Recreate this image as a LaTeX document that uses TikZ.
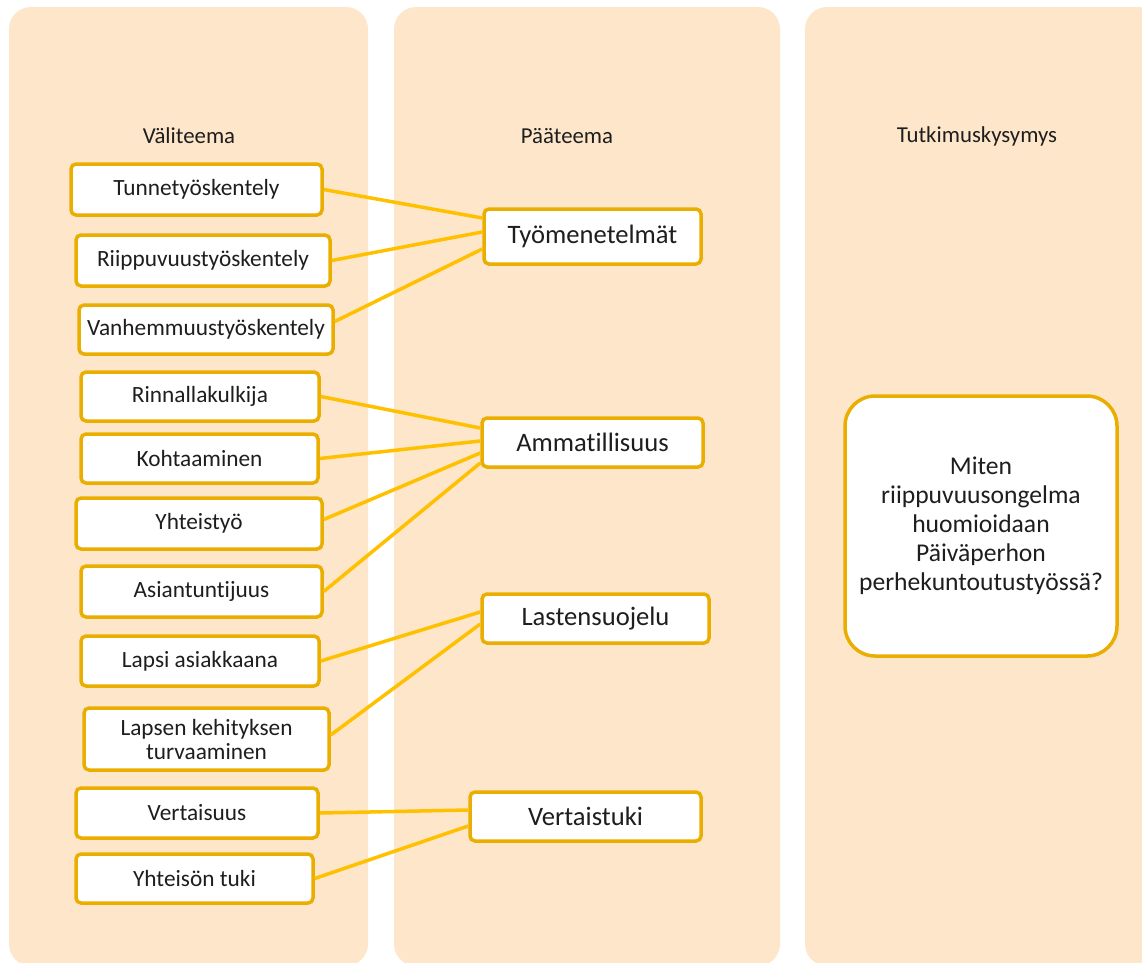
\documentclass[tikz,border=0pt]{standalone}
\usepackage{fontspec}
\setmainfont{Carlito}[Ligatures={NoCommon}]
\definecolor{panelfill}{RGB}{254,230,203}
\definecolor{boxline}{RGB}{234,174,0}
\definecolor{linkline}{RGB}{255,192,0}
\definecolor{inktext}{RGB}{30,30,30}
\begin{document}
\begin{tikzpicture}[x=1pt,y=-1pt,
  panel/.style={fill=panelfill,draw=none,rounded corners=22pt},
  header/.style={text=inktext,font=\fontsize{22.8}{25}\selectfont},
  subbox/.style={draw=boxline,line width=3.5pt,fill=white,rounded corners=5pt,
    text=inktext,font=\fontsize{23.3}{24}\selectfont,align=center,inner sep=0pt},
  mainbox/.style={draw=boxline,line width=3.5pt,fill=white,rounded corners=5pt,
    text=inktext,font=\fontsize{26.6}{28}\selectfont,align=center,inner sep=0pt},
  questionbox/.style={draw=boxline,line width=3.5pt,fill=white,rounded corners=30pt,
    text=inktext,font=\fontsize{25.6}{29}\selectfont,align=center,inner sep=0pt},
  link/.style={draw=linkline,line width=3.5pt}]
\useasboundingbox (0,0) rectangle (1142,962);

% column panels
\begin{scope}
\clip (0,0) rectangle (1142,962);
\fill[panel] (9,7) rectangle (368,966);
\fill[panel] (394,7) rectangle (780,966);
\fill[panel] (805,7) rectangle (1170,966);
\end{scope}

% column headings
\node[header] (h1) at (189,136) {Väliteema};
\node[header] (h2) at (567,136) {Pääteema};
\node[header] (h3) at (977,136) {Tutkimuskysymys};

% sub-themes
\node[subbox,minimum width=251pt,minimum height=51pt] (t1) at (196.5,189.5) {Tunnetyöskentely};
\node[subbox,minimum width=254pt,minimum height=51pt] (t2) at (203,260.5) {Riippuvuustyöskentely};
\node[subbox,minimum width=254pt,minimum height=49pt] (t3) at (206,329.5) {Vanhemmuustyöskentely};
\node[subbox,minimum width=238pt,minimum height=49pt] (a1) at (200,396.5) {Rinnallakulkija};
\node[subbox,minimum width=237pt,minimum height=49pt] (a2) at (199.5,458.5) {Kohtaaminen};
\node[subbox,minimum width=246pt,minimum height=51pt] (a3) at (199,523.5) {Yhteistyö};
\node[subbox,minimum width=241pt,minimum height=51pt] (a4) at (201.5,591.5) {Asiantuntijuus};
\node[subbox,minimum width=238pt,minimum height=50pt] (l1) at (200,661) {Lapsi asiakkaana};
\node[subbox,minimum width=245pt,minimum height=62pt] (l2) at (206.5,739) {Lapsen kehityksen\\turvaaminen};
\node[subbox,minimum width=242pt,minimum height=50pt] (v1) at (197,813) {Vertaisuus};
\node[subbox,minimum width=237pt,minimum height=49pt] (v2) at (194.5,878.5) {Yhteisön tuki};

% main themes
\node[mainbox,minimum width=217pt,minimum height=55pt] (tyo) at (592.5,236.5) {Työmenetelmät};
\node[mainbox,minimum width=221pt,minimum height=49pt] (amm) at (592.5,442.5) {Ammatillisuus};
\node[mainbox,minimum width=227pt,minimum height=49pt] (las) at (595.5,618.5) {Lastensuojelu};
\node[mainbox,minimum width=231pt,minimum height=49pt] (ver) at (585.5,816.5) {Vertaistuki};

% research question
\node[questionbox,minimum width=272pt,minimum height=260pt] (q) at (981,526)
  {Miten\\riippuvuusongelma\\huomioidaan\\Päiväperhon\\perhekuntoutustyössä?};

% connectors
\draw[link] (t1.east) -- ([yshift=18.5pt]tyo.west);
\draw[link] (t2.east) -- ([yshift=4.5pt]tyo.west);
\draw[link] ([yshift=8pt]t3.east) -- ([yshift=-12.5pt]tyo.west);
\draw[link] (a1.east) -- ([yshift=14.5pt]amm.west);
\draw[link] (a2.east) -- ([yshift=1.5pt]amm.west);
\draw[link] ([yshift=4pt]a3.east) -- ([yshift=-10.5pt]amm.west);
\draw[link] (a4.east) -- ([yshift=-20.5pt]amm.west);
\draw[link] (l1.east) -- ([yshift=6.5pt]las.west);
\draw[link] ([yshift=4pt]l2.east) -- ([yshift=-5.5pt]las.west);
\draw[link] (v1.east) -- ([yshift=6.5pt]ver.west);
\draw[link] (v2.east) -- ([yshift=-9.5pt]ver.west);
\end{tikzpicture}
\end{document}
